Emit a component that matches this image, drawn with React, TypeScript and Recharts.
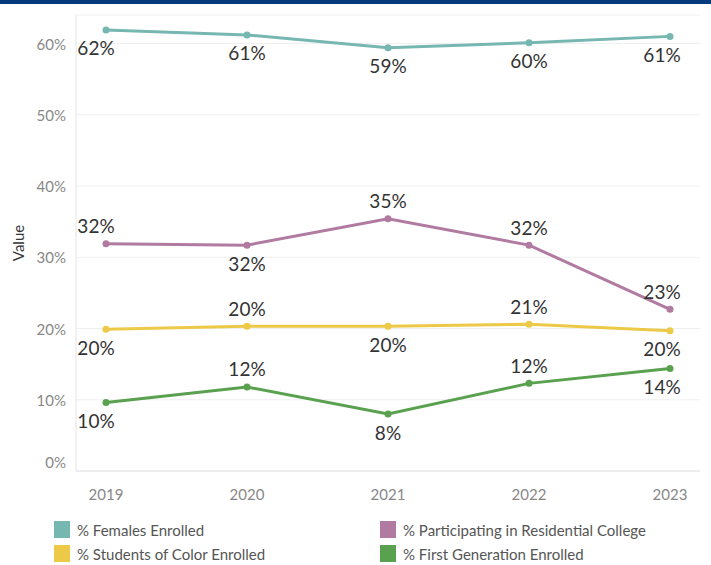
import { LineChart, Line, XAxis, YAxis, CartesianGrid, LabelList } from 'recharts';

const years = ['2019', '2020', '2021', '2022', '2023'];
const females = [61.9, 61.2, 59.4, 60.1, 61.0];
const residential = [31.9, 31.7, 35.4, 31.7, 22.7];
const studentsOfColor = [19.9, 20.3, 20.3, 20.6, 19.7];
const firstGen = [9.6, 11.8, 8.0, 12.3, 14.4];
const yTicks = [0, 10, 20, 30, 40, 50, 60];

const series = [
  { key: 'females', name: '% Females Enrolled', color: '#76b7b2', values: females },
  { key: 'residential', name: '% Participating in Residential College', color: '#b07aa1', values: residential },
  { key: 'color', name: '% Students of Color Enrolled', color: '#edc948', values: studentsOfColor },
  { key: 'firstGen', name: '% First Generation Enrolled', color: '#59a14f', values: firstGen },
];

// which side of the point each label sits on (1 = below, -1 = above)
const labelSide: Record<string, number[]> = {
  females: [1, 1, 1, 1, 1],
  residential: [-1, 1, -1, -1, -1],
  color: [1, -1, 1, -1, 1],
  firstGen: [1, -1, 1, -1, 1],
};

const data = years.map((year, i) => {
  const row: Record<string, string | number> = { year };
  series.forEach((s) => {
    row[s.key] = s.values[i];
  });
  return row;
});

const FONT = 'Lato, "Open Sans", sans-serif';

function makeLabel(key: string) {
  return (props: any) => {
    const { x, y, value, index } = props;
    const side = labelSide[key][index];
    const dx = index === 0 ? -10 : index === years.length - 1 ? -8 : 0;
    return (
      <text
        x={x + dx}
        y={y + side * 18}
        textAnchor="middle"
        dominantBaseline="central"
        fontSize={19}
        fontFamily={FONT}
        fill="#333"
      >
        {Math.round(value)}%
      </text>
    );
  };
}

const YTick = (props: any) => {
  const { x, y, payload } = props;
  return (
    <text
      x={x + 4}
      y={payload.value === 0 ? y - 9 : y}
      textAnchor="end"
      dominantBaseline="central"
      fontSize={15}
      fontFamily={FONT}
      fill="#888"
    >
      {payload.value}%
    </text>
  );
};

const YTitle = (props: any) => {
  const { viewBox } = props;
  const cx = viewBox.x + 18;
  const cy = viewBox.y + viewBox.height / 2;
  return (
    <text
      x={cx}
      y={cy}
      transform={`rotate(-90 ${cx} ${cy})`}
      textAnchor="middle"
      dominantBaseline="central"
      fontSize={15}
      fontFamily={FONT}
      fill="#333"
    >
      Value
    </text>
  );
};

export default function App() {
  return (
    <div style={{ position: 'absolute', left: 0, top: 0, width: 711, height: 565, background: '#fff', fontFamily: FONT }}>
      <div style={{ position: 'absolute', left: 0, top: 0, width: 711, height: 4, background: '#063a7d' }} />
      <LineChart width={711} height={565} data={data} margin={{ top: 15, right: 11, bottom: 64, left: 0 }}>
        <CartesianGrid horizontal vertical={false} stroke="#efefef" />
        <XAxis
          dataKey="year"
          padding={{ left: 30, right: 30 }}
          axisLine={{ stroke: '#e4e4e4' }}
          tickLine={false}
          tickMargin={12}
          height={30}
          tick={{ fontSize: 15, fill: '#888', fontFamily: FONT }}
        />
        <YAxis
          domain={[0, 64]}
          ticks={yTicks}
          width={76}
          axisLine={{ stroke: '#e4e4e4' }}
          tickLine={false}
          tickMargin={8}
          tick={<YTick />}
          label={<YTitle />}
        />
        {series.map((s) => (
          <Line
            key={s.key}
            dataKey={s.key}
            name={s.name}
            stroke={s.color}
            strokeWidth={3}
            dot={{ r: 3.5, fill: s.color, stroke: s.color, strokeWidth: 0 }}
            activeDot={false}
            isAnimationActive={false}
          >
            <LabelList dataKey={s.key} content={makeLabel(s.key)} />
          </Line>
        ))}
      </LineChart>
      <div style={{ position: 'absolute', left: 54, top: 521, width: 650, display: 'grid', gridTemplateColumns: '326px 320px', rowGap: 7 }}>
        {series.map((s) => (
          <div key={s.key} style={{ display: 'flex', alignItems: 'center', height: 17 }}>
            <div style={{ width: 16, height: 17, background: s.color, marginRight: 7 }} />
            <span style={{ fontSize: 15, color: '#555' }}>{s.name}</span>
          </div>
        ))}
      </div>
    </div>
  );
}
